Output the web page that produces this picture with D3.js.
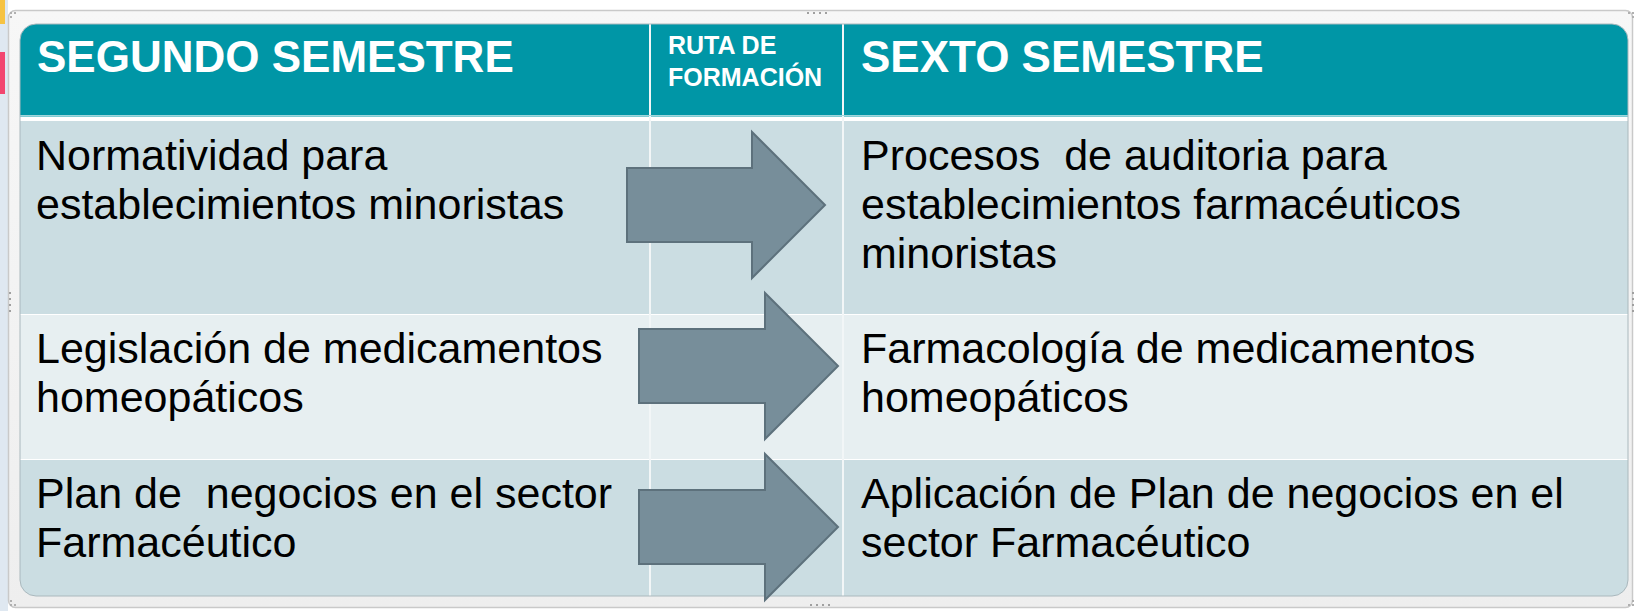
<!DOCTYPE html>
<html><head><meta charset="utf-8">
<script src="https://cdn.jsdelivr.net/npm/d3@7"></script>
<style>
html,body{margin:0;padding:0;background:#fff;}
svg{display:block;}
text{font-family:"Liberation Sans",Arial,sans-serif;white-space:pre;}
</style></head>
<body>
<script>
// ---- data ----
const headers = ["SEGUNDO SEMESTRE", ["RUTA DE", "FORMACIÓN"], "SEXTO SEMESTRE"];
const segundoSemestre = [
  ["Normatividad para", "establecimientos minoristas"],
  ["Legislación de medicamentos", "homeopáticos"],
  ["Plan de  negocios en el sector", "Farmacéutico"]
];
const sextoSemestre = [
  ["Procesos  de auditoria para", "establecimientos farmacéuticos", "minoristas"],
  ["Farmacología de medicamentos", "homeopáticos"],
  ["Aplicación de Plan de negocios en el", "sector Farmacéutico"]
];

// ---- layout ----
const W = 1642, H = 611;
const tbl = {x0: 20, x1: 1628, y0: 24, y1: 596, headerBottom: 115};
const colEdges = [20, 650, 843, 1628];
const rowEdges = [121, 314, 459, 596];
const rowFills = ["#cbdde2", "#e7eff1", "#cbdde2"];
const arrowLayout = [
  {x0: 627, x1: 825, yc: 205},
  {x0: 639, x1: 838, yc: 366},
  {x0: 639, x1: 838, yc: 527}
];

const svg = d3.select("body").append("svg").attr("width", W).attr("height", H);

// background / screenshot frame
svg.append("rect").attr("x",0).attr("y",0).attr("width",W).attr("height",H).attr("fill","#ffffff");
svg.append("rect").attr("x",0).attr("y",0).attr("width",8).attr("height",H).attr("fill","#dfe8f1");
svg.append("rect").attr("x",0).attr("y",0).attr("width",5).attr("height",24).attr("fill","#f6c343");
svg.append("rect").attr("x",0).attr("y",52).attr("width",5).attr("height",42).attr("fill","#f2466f");

const defs = svg.append("defs");
const fg = defs.append("linearGradient").attr("id","frameGrad").attr("x1",0).attr("y1",0).attr("x2",0).attr("y2",1);
fg.append("stop").attr("offset","0").attr("stop-color","#f7f7f7");
fg.append("stop").attr("offset","1").attr("stop-color","#eeeeee");
svg.append("rect").attr("x",8.5).attr("y",10.5).attr("width",1624).attr("height",597).attr("rx",7)
  .attr("fill","url(#frameGrad)").attr("stroke","#c9c9c9").attr("stroke-width",1.5);

// handle dots
function dots(cx, cy, horiz) {
  for (let i = 0; i < 4; i++) {
    svg.append("rect")
      .attr("x", horiz ? cx + i*6 : cx).attr("y", horiz ? cy : cy + i*6)
      .attr("width",2).attr("height",2).attr("fill","#a0a0a0");
  }
}
dots(807, 12, true); dots(810, 604, true); dots(9, 292, false); dots(1632, 292, false);
[[10,12],[14,12],[10,16],[1628,12],[1632,12],[1632,16],[10,600],[10,604],[14,604],[1628,604],[1632,604],[1632,600]]
  .forEach(([x,y]) => svg.append("rect").attr("x",x).attr("y",y).attr("width",2).attr("height",2).attr("fill","#b0b0b0"));

// table clip
defs.append("clipPath").attr("id","tblClip").append("rect")
  .attr("x",tbl.x0).attr("y",tbl.y0).attr("width",tbl.x1-tbl.x0).attr("height",tbl.y1-tbl.y0).attr("rx",16);

const t = svg.append("g").attr("clip-path","url(#tblClip)");
t.append("rect").attr("x",tbl.x0).attr("y",tbl.y0).attr("width",tbl.x1-tbl.x0).attr("height",tbl.y1-tbl.y0).attr("fill","#ffffff");
// header
t.append("rect").attr("x",tbl.x0).attr("y",tbl.y0).attr("width",tbl.x1-tbl.x0).attr("height",tbl.headerBottom-tbl.y0).attr("fill","#0096a6");
t.append("rect").attr("x",tbl.x0).attr("y",tbl.headerBottom).attr("width",tbl.x1-tbl.x0).attr("height",2).attr("fill","#7fcbd3");

// body rows
const rowIdx = d3.range(segundoSemestre.length);
const yTop = d3.scaleOrdinal().domain(rowIdx).range(rowEdges.slice(0,-1));
const yBot = d3.scaleOrdinal().domain(rowIdx).range(rowEdges.slice(1));

t.selectAll("rect.row").data(rowIdx).enter().append("rect").attr("class","row")
  .attr("x",tbl.x0).attr("width",tbl.x1-tbl.x0)
  .attr("y", d => yTop(d) + (d === 0 ? 0 : 1))
  .attr("height", d => yBot(d) - yTop(d) - (d === 0 ? 0 : 1))
  .attr("fill", d => rowFills[d]);

// column separators
[colEdges[1], colEdges[2]].forEach(x => {
  t.append("rect").attr("x",x-1).attr("y",tbl.y0).attr("width",2).attr("height",tbl.y1-tbl.y0).attr("fill","#f2f6f7");
});
t.append("rect").attr("x",tbl.x0).attr("y",tbl.headerBottom).attr("width",tbl.x1-tbl.x0).attr("height",1).attr("fill","#9fd6dc");

// table outline
svg.append("rect").attr("x",tbl.x0).attr("y",tbl.y0).attr("width",tbl.x1-tbl.x0).attr("height",tbl.y1-tbl.y0).attr("rx",16)
  .attr("fill","none").attr("stroke","#aab8bd").attr("stroke-width",1);

// header texts
svg.append("text").attr("x",37).attr("y",72).attr("fill","#fff").attr("font-size",44).attr("font-weight","bold").text(headers[0]);
svg.append("text").attr("x",861).attr("y",72).attr("fill","#fff").attr("font-size",44).attr("font-weight","bold").text(headers[2]);
headers[1].forEach((s,i) => svg.append("text").attr("x",668).attr("y",54 + i*32).attr("fill","#fff")
  .attr("font-size",25).attr("font-weight","bold").text(s));

// body texts
const lineH = 49;
function cellText(data, x) {
  data.forEach((lines, r) => {
    lines.forEach((s, i) => {
      svg.append("text").attr("x", x).attr("y", yTop(r) + 49 + i*lineH)
        .attr("fill","#000").attr("font-size",43).text(s);
    });
  });
}
cellText(segundoSemestre, 36);
cellText(sextoSemestre, 861);

// arrows
const arrowPath = a => {
  const shaftH = 37, headH = 73, headL = 73;
  const hx = a.x1 - headL;
  return d3.line()([
    [a.x0, a.yc - shaftH], [hx, a.yc - shaftH], [hx, a.yc - headH], [a.x1, a.yc],
    [hx, a.yc + headH], [hx, a.yc + shaftH], [a.x0, a.yc + shaftH]
  ]) + "Z";
};
svg.selectAll("path.arrow").data(arrowLayout).enter().append("path").attr("class","arrow")
  .attr("d", arrowPath).attr("fill","#778e9a").attr("stroke","#5d717c").attr("stroke-width",2).attr("stroke-linejoin","miter");
</script>
</body></html>
